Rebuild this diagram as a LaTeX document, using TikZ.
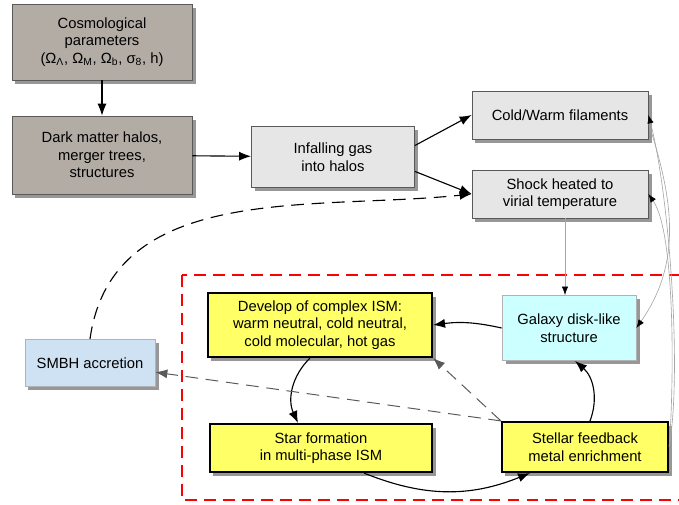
\documentclass[tikz,border=0pt]{standalone}
\usepackage{fontspec}
\setmainfont{Liberation Sans}
\usetikzlibrary{arrows.meta,shadows,calc}
\definecolor{halogray}{HTML}{B3ACA5}
\definecolor{gasgray}{HTML}{E6E6E6}
\definecolor{ismyellow}{HTML}{FFFF66}
\definecolor{diskcyan}{HTML}{CCFFFF}
\definecolor{bhblue}{HTML}{CFE2F3}
\tikzset{
	box/.style={draw=gray!70!black,line width=0.5pt,align=center,inner sep=0pt,
		drop shadow={shadow xshift=2.5pt,shadow yshift=-2.5pt,fill=gray!90,opacity=0.9},
		font=\fontsize{10.5}{12.5}\selectfont},
	halobox/.style={box,fill=halogray},
	gasbox/.style={box,fill=gasgray},
	ismbox/.style={box,fill=ismyellow,draw=black,line width=1.5pt},
	diskbox/.style={box,fill=diskcyan,draw=gray!60},
	bhbox/.style={box,fill=bhblue,draw=gray!60},
	arr/.style={-{Latex[length=8.5pt,width=6.5pt]},line width=0.8pt},
	thinarr/.style={-{Latex[length=6pt,width=4.5pt,color=black]},draw=gray!70,line width=0.45pt},
	dasharr/.style={arr,dash pattern=on 9pt off 5.5pt},
	greydash/.style={dasharr,draw=gray!70!black,line width=0.7pt}
}
\begin{document}
\begin{tikzpicture}[x=0.025cm,y=0.025cm]
	\useasboundingbox (0,0) rectangle (679,-505);
	\draw[red,line width=1.7pt,dash pattern=on 8.5pt off 5pt] (182,-275) rectangle (700,-500);
	\node (cosmo) at (102,-42)[halobox,minimum width=4.5cm,minimum height=1.9cm] {Cosmological\\parameters\\(Ω\textsubscript{Λ}, Ω\textsubscript{M}, Ω\textsubscript{b}, σ\textsubscript{8}, h)};
	\node (dark) at (102,-155)[halobox,minimum width=4.5cm,minimum height=1.95cm] {Dark matter halos,\\merger trees,\\structures};
	\node (infall) at (333,-157)[gasbox,minimum width=4.08cm,minimum height=1.53cm] {Infalling gas\\into halos};
	\node (fila) at (560,-115)[gasbox,minimum width=4.4cm,minimum height=1.2cm] {Cold/Warm filaments};
	\node (shock) at (560,-194)[gasbox,minimum width=4.4cm,minimum height=1.2cm] {Shock heated to\\virial temperature};
	\node (develop) at (320,-325)[ismbox,minimum width=5.6cm,minimum height=1.6cm] {Develop of complex ISM:\\warm neutral, cold neutral,\\cold molecular, hot gas};
	\node (galaxy) at (569,-328)[diskbox,minimum width=3.35cm,minimum height=1.63cm] {Galaxy disk-like\\structure};
	\node (smbh) at (90,-363)[bhbox,minimum width=3.25cm,minimum height=1.18cm] {SMBH accretion};
	\node (star) at (321,-448)[ismbox,minimum width=5.55cm,minimum height=1.2cm] {Star formation\\in multi-phase ISM};
	\node (feed) at (585,-447)[ismbox,minimum width=4.15cm,minimum height=1.25cm] {Stellar feedback\\metal enrichment};
	\draw[arr] (cosmo)--(dark);
	\draw[arr] (dark)--(infall);
	\draw[arr] (infall.8)--(fila.west);
	\draw[arr] (infall.-10)--(shock.west);
	\draw[dasharr] (smbh.north) to[out=82,in=186] (shock.west);
	\draw[thinarr] ($(shock.south)+(5,0)$)--($(galaxy.north)+(-4,0)$);
	\draw[thinarr] (fila.-5) to[out=-72,in=55] (galaxy.east);
	\draw[thinarr] (feed.east) to[out=80,in=-75,looseness=0.6] (fila.east);
	\draw[thinarr] (feed.east) to[out=85,in=-55,looseness=0.5] (shock.east);
	\draw[arr] (galaxy.west) to[bend right=10] (develop.east);
	\draw[arr] ($(develop.south)+(-10,0)$) to[bend right=35] ($(star.north)+(-23,0)$);
	\draw[arr] ($(star.south)+(43,0)$) to[bend right=22] ($(feed.south)+(-55,0)$);
	\draw[arr] ($(feed.north)+(5,0)$) to[bend right=35] ($(galaxy.south)+(6,0)$);
	\draw[greydash] (feed.north west)--(develop.south east);
	\draw[greydash] (feed.north west)--(smbh.-8);
\end{tikzpicture}
\end{document}
